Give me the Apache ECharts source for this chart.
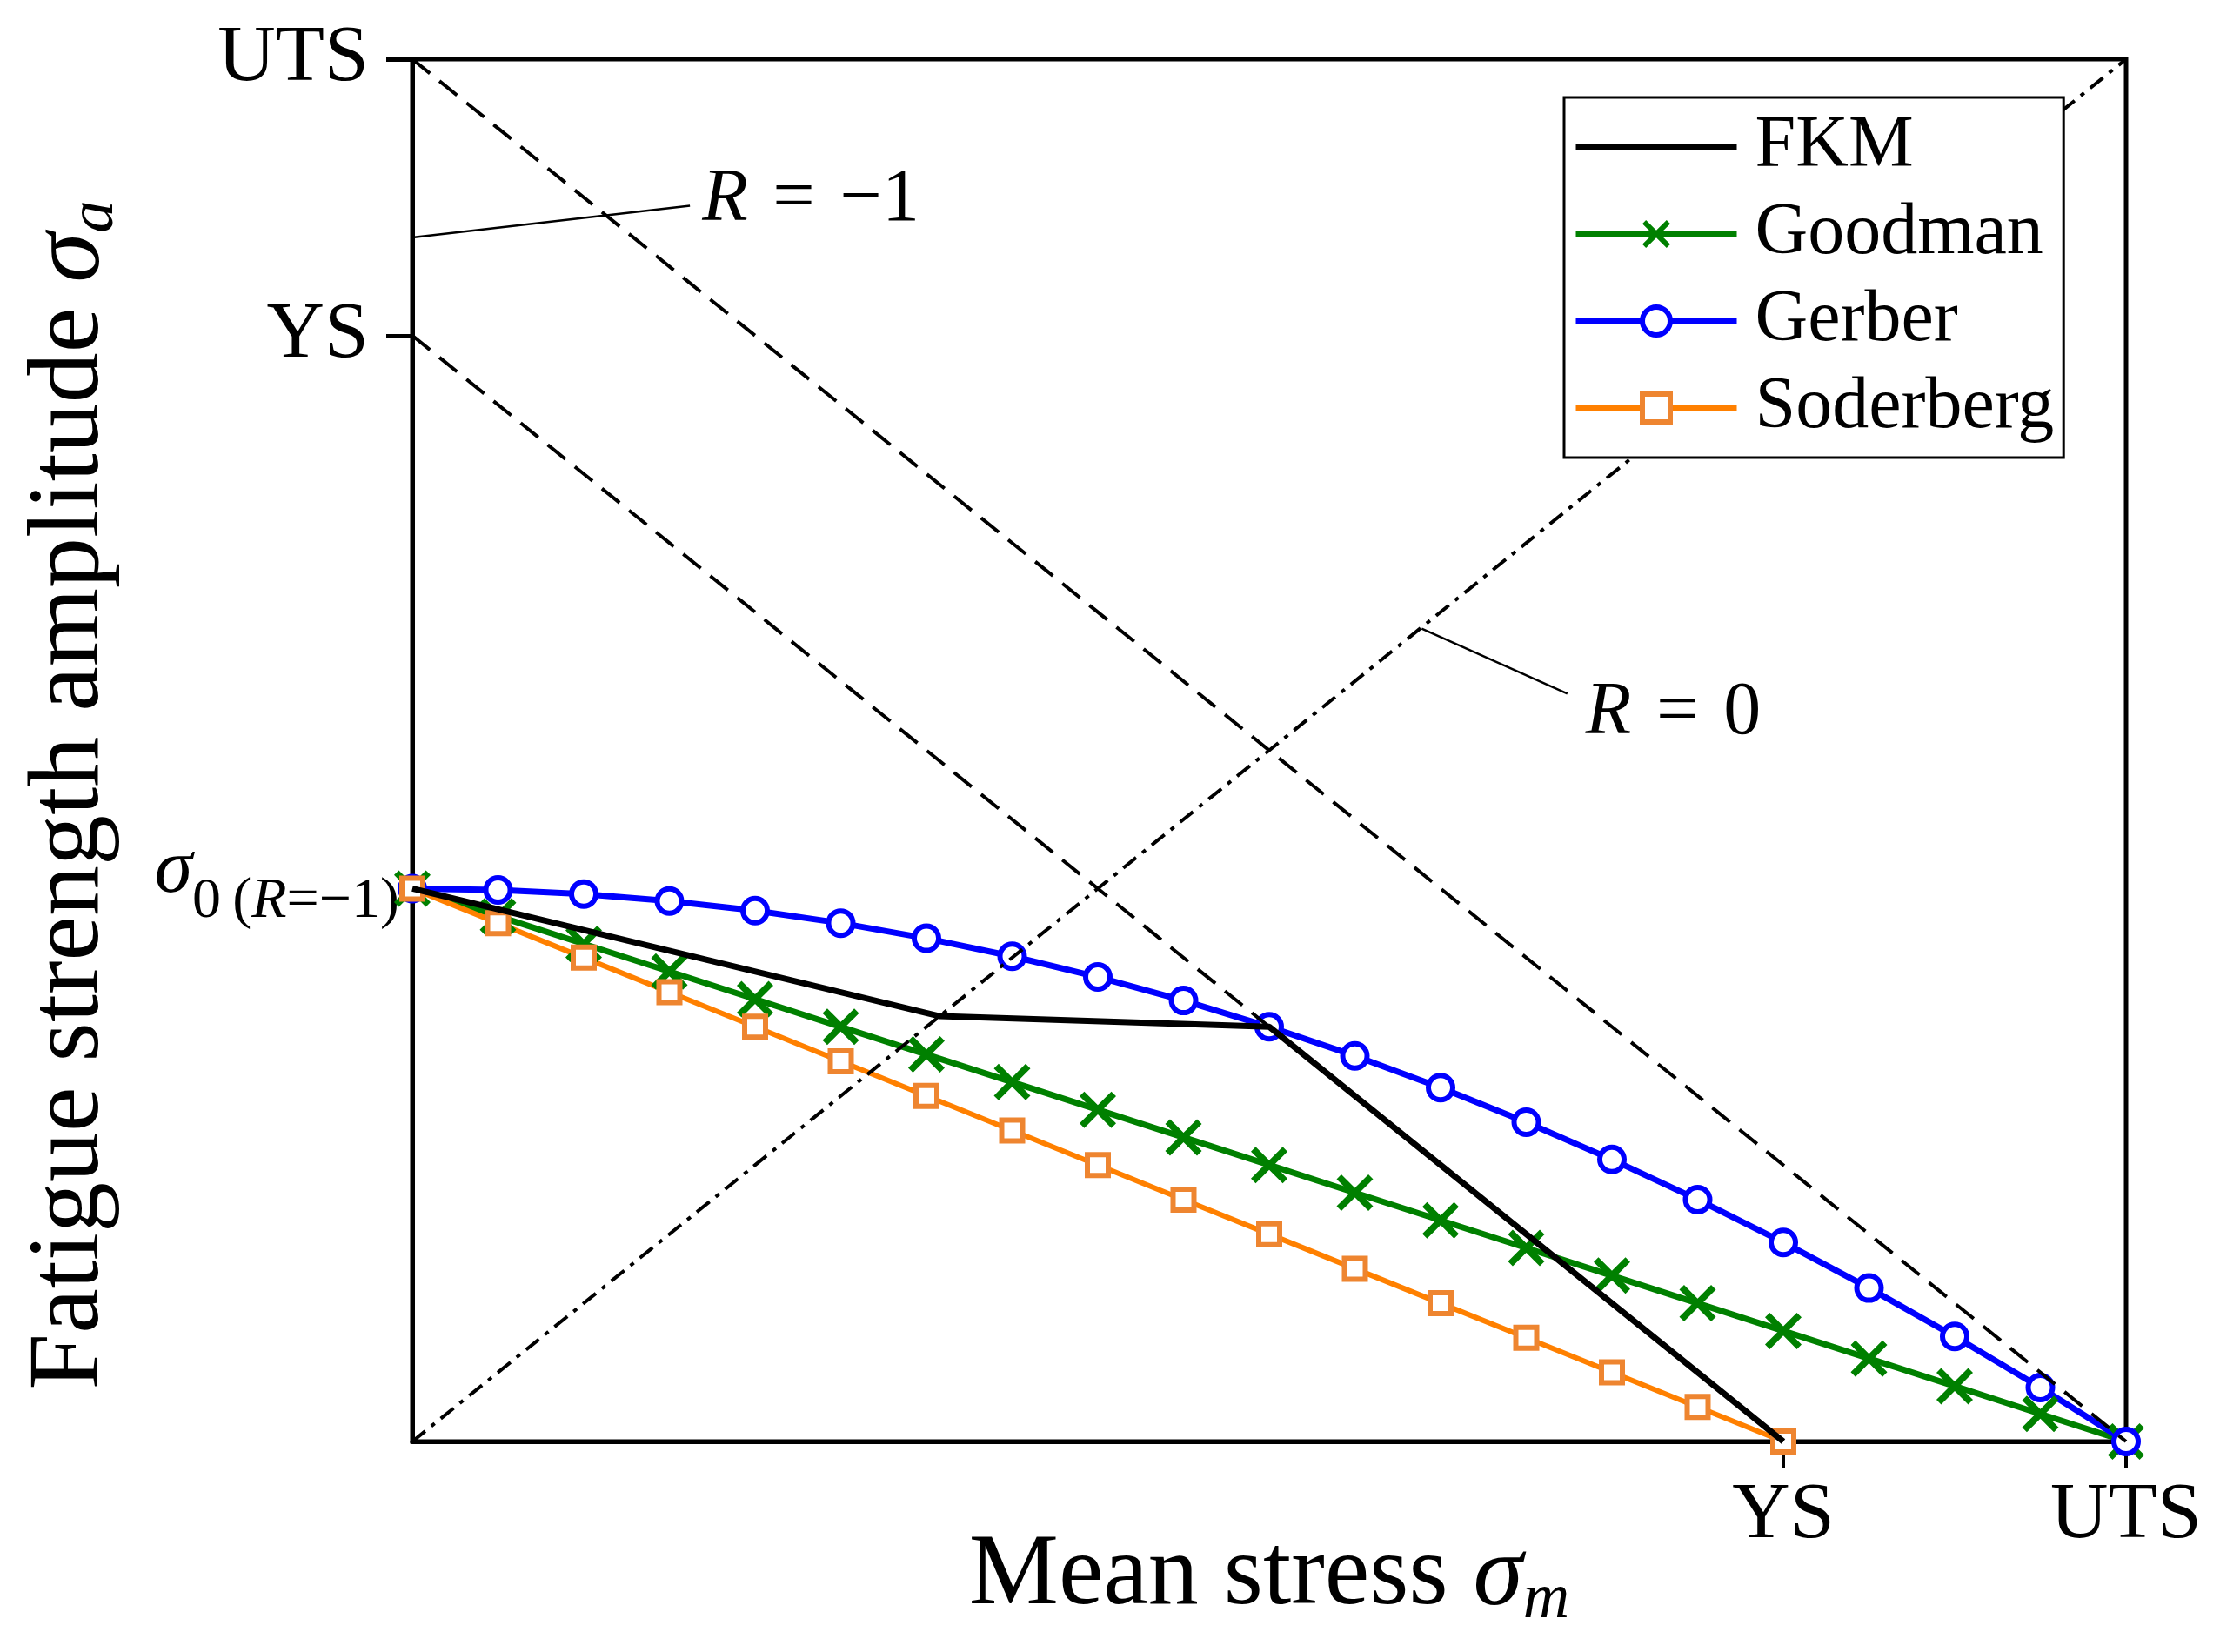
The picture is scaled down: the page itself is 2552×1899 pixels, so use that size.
<!DOCTYPE html>
<html>
<head>
<meta charset="utf-8">
<script src="https://cdn.jsdelivr.net/npm/echarts@6/dist/echarts.min.js"></script>
<style>html,body{margin:0;padding:0;background:#fff}#c{width:2552px;height:1899px}</style>
</head>
<body>
<div id="c"></div>
<script>
// ---- data (fractions of UTS) ----
const meanStress = [0, 0.05, 0.1, 0.15, 0.2, 0.25, 0.3, 0.35, 0.4, 0.45, 0.5, 0.55, 0.6, 0.65, 0.7, 0.75, 0.8, 0.85, 0.9, 0.95, 1.0];
const goodmanAmp = [0.4, 0.38, 0.36, 0.34, 0.32, 0.30, 0.28, 0.26, 0.24, 0.22, 0.20, 0.18, 0.16, 0.14, 0.12, 0.10, 0.08, 0.06, 0.04, 0.02, 0];
const gerberAmp = [0.4, 0.399, 0.396, 0.391, 0.384, 0.375, 0.364, 0.351, 0.336, 0.319, 0.30, 0.279, 0.256, 0.231, 0.204, 0.175, 0.144, 0.111, 0.076, 0.039, 0];
const soderbergStress = [0, 0.05, 0.1, 0.15, 0.2, 0.25, 0.3, 0.35, 0.4, 0.45, 0.5, 0.55, 0.6, 0.65, 0.7, 0.75, 0.8];
const soderbergAmp = [0.4, 0.375, 0.35, 0.325, 0.3, 0.275, 0.25, 0.225, 0.2, 0.175, 0.15, 0.125, 0.1, 0.075, 0.05, 0.025, 0];
const fkmStress = [0, 0.3077, 0.5, 0.8];
const fkmAmp = [0.4, 0.3077, 0.3, 0];
const utsLineStress = [0, 1];
const utsLineAmp = [1, 0];
const ysLineStress = [0, 0.8];
const ysLineAmp = [0.8, 0];
const rZeroStress = [0, 1];
const rZeroAmp = [0, 1];
const annotRm1Stress = [0, 0.162];
const annotRm1Amp = [0.871, 0.894];
const annotR0Stress = [0.589, 0.674];
const annotR0Amp = [0.588, 0.541];
const annotTexts = ['R = −1', 'R = 0'];
const xTickValues = [0.8, 1.0];
const xTickLabels = ['YS', 'UTS'];
const yTickValues = [0.4, 0.8, 1.0];
const yTickLabels = ['σ0(R=−1)', 'YS', 'UTS'];
const seriesNames = ['FKM', 'Goodman', 'Gerber', 'Soderberg'];

const FONT = 'Liberation Serif';
const SP = '\u2004';
const pairs = (xs, ys) => xs.map((x, i) => [x, ys[i]]);
const idxOf = (arr, v) => arr.findIndex(a => Math.abs(a - v) < 1e-9);
const X_PATH = 'path://M0,13 L13,0 L50,37 L87,0 L100,13 L63,50 L100,87 L87,100 L50,63 L13,100 L0,87 L37,50 Z';

const chart = echarts.init(document.getElementById('c'), null, {renderer: 'canvas', width: 2552, height: 1899});

const refLine = (data, type, width) => ({
  type: 'line', data, symbol: 'none', silent: true, z: 5, clip: true,
  lineStyle: {color: '#000', width, type}
});

const option = {
  animation: false,
  backgroundColor: '#fff',
  grid: {left: 474, top: 68, width: 1970, height: 1589, show: true, borderColor: '#000', borderWidth: 5,
         backgroundColor: 'transparent', containLabel: false, outerBoundsMode: 'none'},
  xAxis: {
    type: 'value', min: 0, max: 1,
    splitLine: {show: false},
    axisLine: {show: true, onZero: false, lineStyle: {color: '#000', width: 5}},
    axisTick: {show: true, customValues: xTickValues, length: 30, inside: false, lineStyle: {color: '#000', width: 4}},
    axisLabel: {
      show: true, customValues: xTickValues, margin: 40,
      fontFamily: FONT, fontSize: 92, color: '#000',
      formatter: v => { const i = idxOf(xTickValues, v); return i >= 0 ? xTickLabels[i] : ''; }
    },
    name: 'Mean stress {s|σ}{sub|m}',
    nameLocation: 'middle', nameGap: 91, nameMoveOverlap: false,
    nameTextStyle: {
      fontFamily: FONT, fontSize: 116, lineHeight: 130, color: '#000',
      rich: {
        s: {fontFamily: FONT, fontStyle: 'italic', fontSize: 116, lineHeight: 130, color: '#000'},
        sub: {fontFamily: FONT, fontStyle: 'italic', fontSize: 74, lineHeight: 74, verticalAlign: 'top', padding: [55, 0, 0, 0], color: '#000'}
      }
    }
  },
  yAxis: {
    type: 'value', min: 0, max: 1,
    splitLine: {show: false},
    axisLine: {show: true, onZero: false, lineStyle: {color: '#000', width: 5}},
    axisTick: {show: true, customValues: [yTickValues[1], yTickValues[2]], length: 30, inside: false, lineStyle: {color: '#000', width: 5}},
    axisLabel: {
      show: true, customValues: yTickValues, margin: 15,
      fontFamily: FONT, fontSize: 92, color: '#000',
      formatter: v => {
        const i = idxOf(yTickValues, v);
        if (i < 0) return '';
        if (i === 0) {
          const t = yTickLabels[0];
          return '{s|' + t[0] + '}{sub|' + t[1] + '\u2009' + t[2] + '}{si|' + t[3] + '}{sub|' + t.slice(4) + '}';
        }
        return '{big|' + yTickLabels[i] + '}';
      },
      rich: {
        s: {fontFamily: FONT, fontStyle: 'italic', fontSize: 88, lineHeight: 88, padding: [0, 0, 40, 0], color: '#000'},
        sub: {fontFamily: FONT, fontSize: 66, lineHeight: 66, verticalAlign: 'top', padding: [26, 0, 0, 0], color: '#000'},
        si: {fontFamily: FONT, fontStyle: 'italic', fontSize: 66, lineHeight: 66, verticalAlign: 'top', padding: [26, 0, 0, 0], color: '#000'},
        big: {fontFamily: FONT, fontSize: 92, padding: [0, 35, 0, 0], color: '#000'}
      }
    }
  },
  legend: {
    show: true, orient: 'vertical', left: 1798, top: 112, z: 20,
    data: seriesNames, selectedMode: false,
    padding: [15, 11, 15, 10],
    itemWidth: 185, itemHeight: 40, itemGap: 16,
    backgroundColor: '#fff', borderColor: '#000', borderWidth: 3, borderRadius: 0,
    lineStyle: {width: 'inherit'},
    itemStyle: {borderWidth: 'inherit'},
    textStyle: {fontFamily: FONT, fontSize: 84, lineHeight: 84, color: '#000', padding: [0, 0, 0, 16]}
  },
  graphic: [{
    type: 'text', x: 82, y: 914, rotation: Math.PI / 2, silent: true,
    style: {
      text: 'Fatigue strength amplitude {s|σ}{sub|a}',
      fontFamily: FONT, fontSize: 116, lineHeight: 130, fill: '#000',
      align: 'center', verticalAlign: 'middle',
      rich: {
        s: {fontFamily: FONT, fontStyle: 'italic', fontSize: 116, lineHeight: 130, fill: '#000'},
        sub: {fontFamily: FONT, fontStyle: 'italic', fontSize: 74, lineHeight: 74, verticalAlign: 'top', padding: [56, 0, 0, 0], fill: '#000'}
      }
    }
  }],
  series: [
    {
      name: seriesNames[1], type: 'line', data: pairs(meanStress, goodmanAmp),
      symbol: X_PATH, symbolSize: 42, showSymbol: true, z: 2,
      lineStyle: {color: '#008000', width: 7},
      itemStyle: {color: '#008000', borderWidth: 0}
    },
    {
      name: seriesNames[2], type: 'line', data: pairs(meanStress, gerberAmp),
      symbol: 'circle', symbolSize: 28, showSymbol: true, z: 2,
      lineStyle: {color: '#0000ff', width: 7},
      itemStyle: {color: '#ffffff', borderColor: '#0000ff', borderWidth: 6}
    },
    {
      name: seriesNames[3], type: 'line', data: pairs(soderbergStress, soderbergAmp),
      symbol: 'rect', symbolSize: 24, showSymbol: true, z: 2,
      lineStyle: {color: '#ff8000', width: 6},
      itemStyle: {color: '#ffffff', borderColor: '#ee8530', borderWidth: 6}
    },
    {
      name: seriesNames[0], type: 'line', data: pairs(fkmStress, fkmAmp),
      symbol: 'none', z: 3,
      lineStyle: {color: '#000000', width: 7},
      itemStyle: {color: 'rgba(0,0,0,0)', borderWidth: 0}
    },
    refLine(pairs(utsLineStress, utsLineAmp), [26, 14], 4),
    refLine(pairs(ysLineStress, ysLineAmp), [26, 14], 4),
    refLine(pairs(rZeroStress, rZeroAmp), [19, 9, 5, 9], 4),
    refLine(pairs(annotRm1Stress, annotRm1Amp), 'solid', 2.5),
    refLine(pairs(annotR0Stress, annotR0Amp), 'solid', 2.5)
  ]
};
chart.setOption(option);

// annotation texts placed at the end of their leader lines via the chart's own scales
const annotTextStyle = t => {
  const parts = t.split(' ');
  return {
    text: '{i|' + parts[0] + '}' + SP + parts[1] + SP + parts[2],
    fontFamily: FONT, fontSize: 86, fill: '#000', align: 'left', verticalAlign: 'middle',
    rich: {i: {fontFamily: FONT, fontStyle: 'italic', fontSize: 86, fill: '#000'}}
  };
};
const pRm1 = chart.convertToPixel({gridIndex: 0}, [annotRm1Stress[1], annotRm1Amp[1]]);
const pR0 = chart.convertToPixel({gridIndex: 0}, [annotR0Stress[1], annotR0Amp[1]]);
const g = option.graphic.slice();
g.push({type: 'text', x: pRm1[0] + 14, y: pRm1[1] - 6, silent: true, z: 10, style: annotTextStyle(annotTexts[0])});
g.push({type: 'text', x: pR0[0] + 21, y: pR0[1] + 23, silent: true, z: 10, style: annotTextStyle(annotTexts[1])});
chart.setOption({graphic: g});
</script>
</body>
</html>
